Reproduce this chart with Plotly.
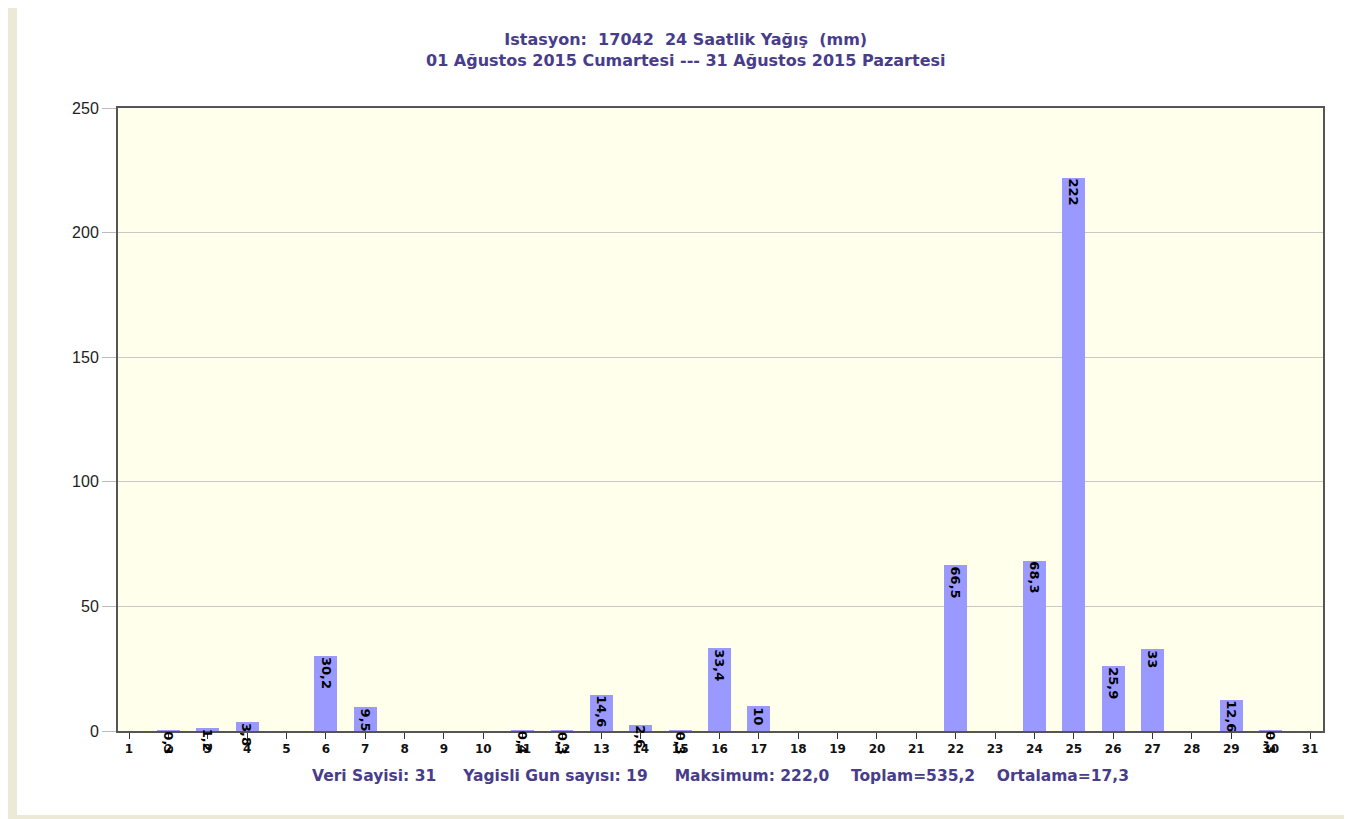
import plotly.graph_objects as go

days = list(range(1, 32))
rain = [0, 0.3, 1.2, 3.8, 0, 30.2, 9.5, 0, 0, 0,
        0.4, 0.3, 14.6, 2.6, 0.3, 33.4, 10, 0, 0, 0,
        0, 66.5, 0, 68.3, 222, 25.9, 33, 0, 12.6, 0.3, 0]
y_ticks = [0, 50, 100, 150, 200, 250]

title1 = "Istasyon:  17042  24 Saatlik Yağış  (mm)"
title2 = "01 Ağustos 2015 Cumartesi --- 31 Ağustos 2015 Pazartesi"
sp = "&nbsp;" * 5
footer = ("Veri Sayisi: 31" + sp + "Yagisli Gun sayısı: 19" + sp +
          "Maksimum: 222,0" + "&nbsp;" * 4 + "Toplam=535,2" + "&nbsp;" * 4 + "Ortalama=17,3")


def fmt(v):
    if v == 0:
        return ""
    if float(v).is_integer():
        return str(int(v))
    return ("%.1f" % v).replace(".", ",")


labels = [fmt(v) for v in rain]

OFF = 8  # page body margin
W, H = 1352 - OFF, 819 - OFF
L, R, T, B = 118 - OFF, 29, 108 - OFF, 88
pw = W - L - R
ph = H - T - B


def px_x(p):  # page pixel -> paper
    return (p - OFF - L) / pw


def px_y(p):
    return 1 - (p - OFF - T) / ph


purple = "#483D8B"

fig = go.Figure()
fig.add_trace(go.Bar(
    x=days, y=rain, width=0.58,
    marker=dict(color="#9999FF", line=dict(width=0)),
    cliponaxis=False, hoverinfo="x+y",
))

bar_labels = [
    dict(x=d, y=v, xref="x", yref="y", text="<b>" + t + "</b>", textangle=90,
         xanchor="center", yanchor="top", showarrow=False, yshift=1,
         font=dict(family="DejaVu Sans", size=13, color="#000000"))
    for d, v, t in zip(days, rain, labels) if t
]

shapes = [
    dict(type="rect", xref="paper", yref="paper", x0=px_x(0), x1=px_x(17), y0=px_y(0), y1=px_y(819),
         fillcolor="#ECE9D6", line=dict(width=0), layer="below"),
    dict(type="rect", xref="paper", yref="paper", x0=px_x(0), x1=px_x(1352), y0=px_y(815), y1=px_y(819),
         fillcolor="#ECE9D6", line=dict(width=0), layer="below"),
]

fig.update_layout(
    width=W, height=H,
    margin=dict(l=L, r=R, t=T, b=B),
    paper_bgcolor="#FFFFFF",
    plot_bgcolor="#FFFFEC",
    showlegend=False,
    bargap=0,
    shapes=shapes,
    xaxis=dict(
        range=[0.72, 31.33], tickmode="array", tickvals=days, ticktext=[str(d) for d in days],
        showgrid=False, zeroline=False, showline=True, linecolor="#555555", linewidth=2, mirror=True,
        ticks="outside", ticklen=6, tickcolor="#333333", tickwidth=1,
        tickfont=dict(family="DejaVu Sans", size=12, color="#111111", weight="bold"),
        fixedrange=True,
    ),
    yaxis=dict(
        range=[0, 250], tickmode="array", tickvals=y_ticks,
        showgrid=True, gridcolor="#C8C8C8", gridwidth=1, zeroline=False,
        showline=True, linecolor="#555555", linewidth=2, mirror=True,
        ticks="outside", ticklen=14, tickcolor="#BBBBBB", tickwidth=1,
        tickfont=dict(family="Liberation Sans", size=16, color="#222222"),
        fixedrange=True,
    ),
    annotations=bar_labels + [
        dict(text="<b>" + title1 + "</b><br><b>" + title2 + "</b>", xref="paper", yref="paper",
             x=px_x(686), y=px_y(28), xanchor="center", yanchor="top", showarrow=False,
             font=dict(family="DejaVu Sans", size=16, color=purple)),
        dict(text="<b>" + footer + "</b>", xref="paper", yref="paper",
             x=px_x(720), y=px_y(776), xanchor="center", yanchor="middle", showarrow=False,
             font=dict(family="DejaVu Sans", size=15.5, color=purple)),
    ],
)

fig.write_html("out.html")
